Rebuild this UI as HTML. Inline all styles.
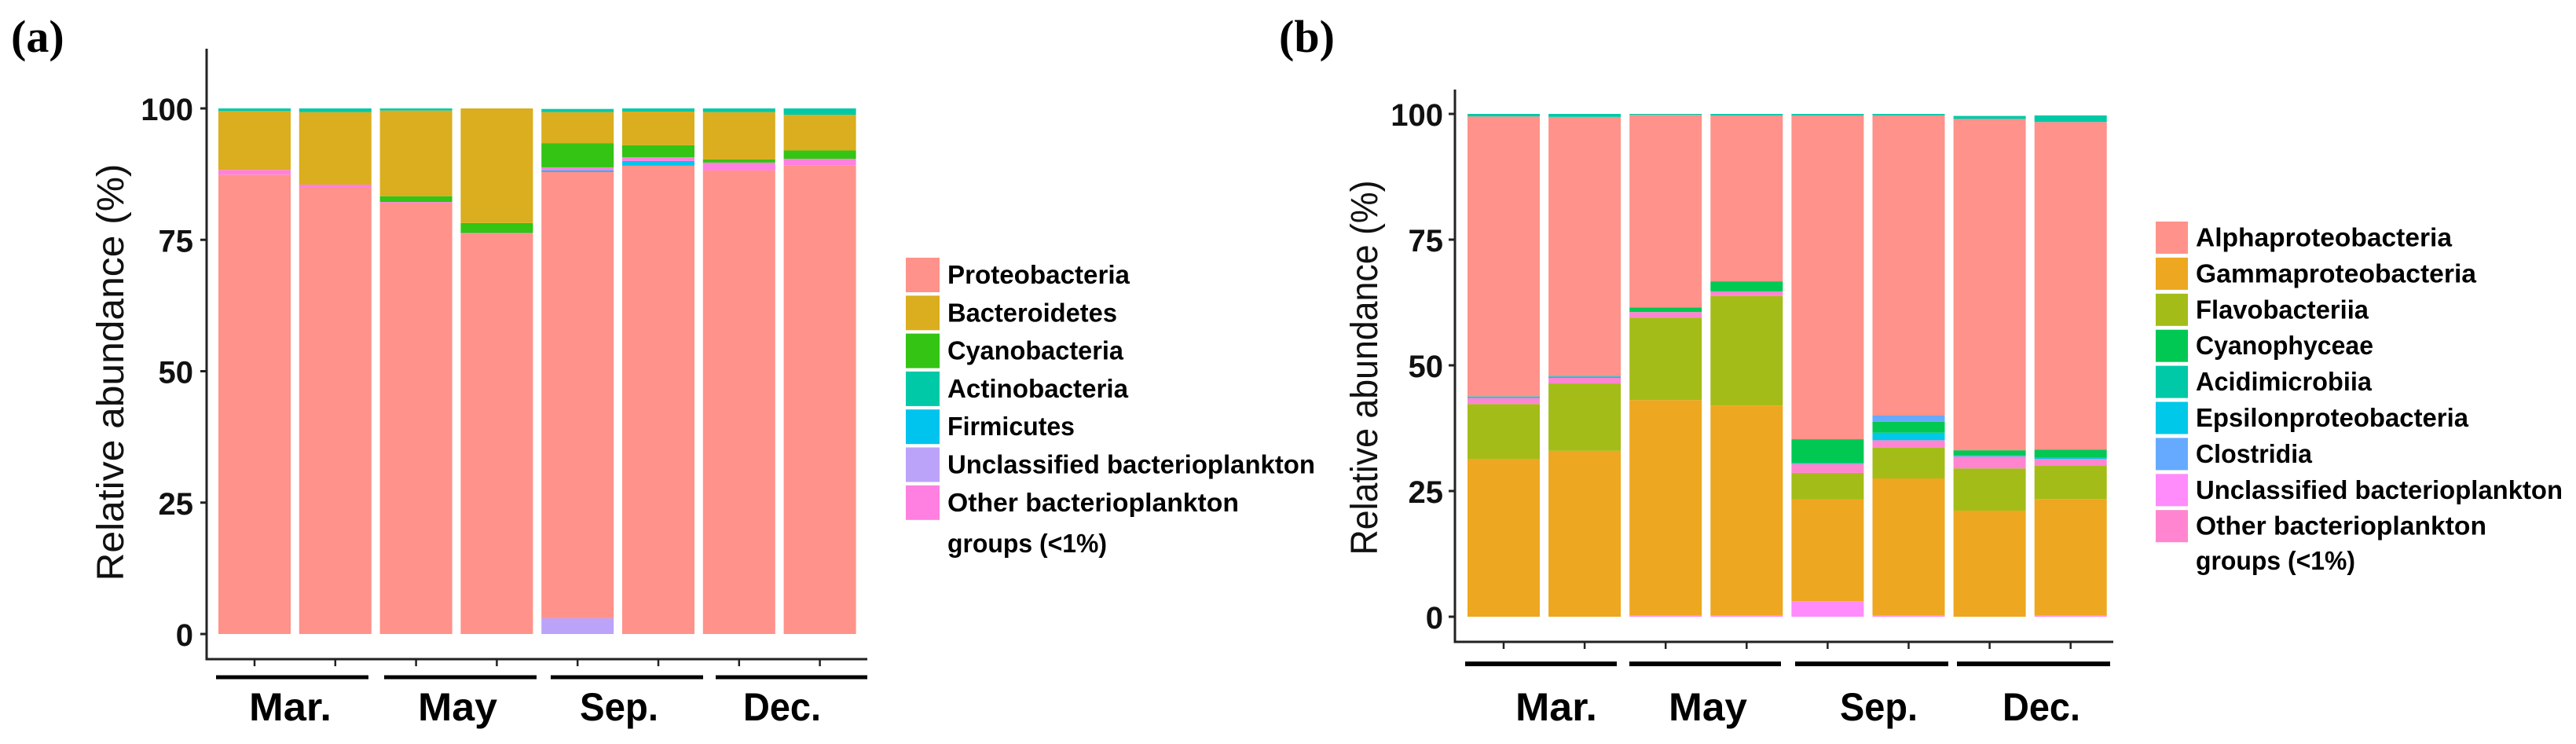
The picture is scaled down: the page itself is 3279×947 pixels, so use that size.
<!DOCTYPE html>
<html><head><meta charset="utf-8"><style>
html,body{margin:0;padding:0;background:#fff;}
svg{display:block;}
.tk{font-family:"Liberation Sans",Arial,sans-serif;font-weight:bold;font-size:40px;fill:#111;}
.yt{font-family:"Liberation Sans",Arial,sans-serif;font-size:48px;fill:#111;}
.lg{font-family:"Liberation Sans Narrow","Liberation Sans",sans-serif;font-weight:bold;font-size:33px;fill:#000;}
.gp{font-family:"Liberation Sans Narrow","Liberation Sans",sans-serif;font-weight:bold;font-size:50px;fill:#000;}
.pl{font-family:"Liberation Serif","Times New Roman",serif;font-weight:bold;font-size:58px;fill:#000;}
</style></head><body>
<svg id="fig" width="3279" height="947" viewBox="0 0 3279 947" xmlns="http://www.w3.org/2000/svg">
<text class="pl" x="14" y="66">(a)</text>
<text class="pl" x="1628" y="66">(b)</text>
<g id="pa"></g>
<g id="pb"></g>
</svg>
<script>
// ---------- shared data ----------
const months = ["Mar.", "May", "Sep.", "Dec."];
const yTicks = [0, 25, 50, 75, 100];

// ---------- panel (a) data: phylum level ----------
const aSeriesNames = ["Unclassified bacterioplankton","Proteobacteria","Firmicutes","Other bacterioplankton groups (<1%)","Cyanobacteria","Bacteroidetes","Actinobacteria"];
const aUnclass = [0, 0, 0, 0, 3.0, 0, 0, 0];
const aProteo  = [87.4, 84.9, 82.0, 76.2, 84.9, 89.1, 88.2, 89.2];
const aFirm    = [0, 0, 0, 0, 0.3, 0.9, 0, 0];
const aOther   = [0.9, 0.6, 0.2, 0.1, 0.6, 0.7, 1.5, 1.2];
const aCyano   = [0, 0, 1.1, 1.9, 4.6, 2.3, 0.6, 1.6];
const aBact    = [11.2, 13.8, 16.3, 21.8, 5.9, 6.4, 9.0, 6.8];
const aActino  = [0.5, 0.7, 0.4, 0, 0.6, 0.6, 0.7, 1.2];

// ---------- panel (b) data: class level ----------
const bSeriesNames = ["Unclassified bacterioplankton","Gammaproteobacteria","Flavobacteriia","Other bacterioplankton groups (<1%)","Epsilonproteobacteria","Cyanophyceae","Clostridia","Alphaproteobacteria","Acidimicrobiia"];
const bUnclass = [0, 0, 0.3, 0.3, 3.1, 0.3, 0, 0.3];
const bGamma   = [31.4, 33.0, 42.8, 41.7, 20.2, 27.2, 21.1, 23.1];
const bFlavo   = [10.9, 13.4, 16.4, 21.8, 5.3, 6.1, 8.4, 6.6];
const bOther   = [1.2, 1.1, 1.1, 0.9, 1.8, 1.5, 2.4, 1.4];
const bEpsilon = [0.3, 0.3, 0, 0, 0.2, 1.5, 0.2, 0.2];
const bCyano   = [0, 0, 0.9, 2.0, 4.7, 2.2, 1.0, 1.6];
const bClost   = [0, 0, 0, 0, 0, 1.2, 0, 0];
const bAlpha   = [55.7, 51.6, 38.3, 33.0, 64.4, 59.7, 65.9, 65.2];
const bAcid    = [0.5, 0.6, 0.2, 0.3, 0.3, 0.3, 0.6, 1.3];

const NS = "http://www.w3.org/2000/svg";
function mk(parent, tag, attrs, text){
  const e = document.createElementNS(NS, tag);
  for (const k in attrs) e.setAttribute(k, attrs[k]);
  if (text !== undefined) e.textContent = text;
  parent.appendChild(e);
  return e;
}

function drawPanel(g, cfg){
  const yS = v => cfg.y0 - v * cfg.ppu;
  const xS = i => cfg.bx0 + i * cfg.pitch;
  const n = cfg.series[0].length;
  for (let i = 0; i < n; i++){
    let cum = 0;
    for (let s = 0; s < cfg.series.length; s++){
      const v = cfg.series[s][i];
      if (v <= 0) continue;
      const r = mk(g, "rect", {x: xS(i), y: yS(cum + v), width: cfg.bw, height: v * cfg.ppu, fill: cfg.colors[s]});
      
      
      cum += v;
    }
  }
  const ya = mk(g, "line", {x1: cfg.ax, y1: cfg.axTop, x2: cfg.ax, y2: cfg.axBot + 1.5, stroke: "#222", "stroke-width": 3});
  
  
  const xa = mk(g, "line", {x1: cfg.ax - 1.5, y1: cfg.axBot, x2: cfg.axRight, y2: cfg.axBot, stroke: "#222", "stroke-width": 3});
  
  
  yTicks.forEach(t => {
    const tm = mk(g, "line", {x1: cfg.ax - 8, y1: yS(t), x2: cfg.ax, y2: yS(t), stroke: "#222", "stroke-width": 3});
    
    
    const tl = mk(g, "text", {x: cfg.tickRight, y: yS(t) + 15, "text-anchor": "end", class: "tk"}, String(t));
    
    
  });
  for (let i = 0; i < n; i++){
    const cx = xS(i) + cfg.bw / 2;
    const tm = mk(g, "line", {x1: cx, y1: cfg.axBot, x2: cx, y2: cfg.axBot + 9, stroke: "#222", "stroke-width": 2.5});
    
    
  }
  months.forEach((m, k) => {
    const gl = mk(g, "line", {x1: cfg.grp[k][0], y1: cfg.grpY, x2: cfg.grp[k][1], y2: cfg.grpY, stroke: "#000", "stroke-width": cfg.grpW});
    
    
    const lt = mk(g, "text", {x: cfg.lab[k][0], y: 917, class: "gp", textLength: cfg.lab[k][1], lengthAdjust: "spacingAndGlyphs"}, m);
    
    
  });
  const yt = mk(g, "text", {x: 0, y: 0, class: "yt", "text-anchor": "middle", textLength: cfg.ytLen, lengthAdjust: "spacingAndGlyphs",
    transform: "translate(" + cfg.ytX + "," + cfg.ytY + ") rotate(-90)"}, "Relative abundance (%)");
  
  
  cfg.legend.forEach((it, k) => {
    const top = cfg.lgTop + k * cfg.lgPitch;
    const kr = mk(g, "rect", {x: cfg.lgX, y: top, width: cfg.lgW, height: cfg.lgH, fill: it[1]});
    
    
    const lt = mk(g, "text", {x: cfg.lgX + cfg.lgW + 10, y: top + cfg.lgH / 2 + 11, class: "lg", textLength: it[2], lengthAdjust: "spacingAndGlyphs"}, it[0]);
    
    
  });
  const gt = mk(g, "text", {x: cfg.lgX + cfg.lgW + 10, y: cfg.groupsY, class: "lg", textLength: 203, lengthAdjust: "spacingAndGlyphs"}, "groups (<1%)");
  
  
}

drawPanel(document.getElementById("pa"), {
  series: [aUnclass, aProteo, aFirm, aOther, aCyano, aBact, aActino],
  colors: ["#BCA3FA", "#FF928A", "#00C4EE", "#FF80E0", "#33C414", "#DAAE1E", "#00C9A7"],
  y0: 807, ppu: 6.69, bx0: 278, pitch: 102.8, bw: 92,
  ax: 263, axTop: 62, axBot: 839, axRight: 1104, tickRight: 246,
  grpY: 862, grpW: 5,
  grp: [[275, 469], [489, 683], [701, 895], [911, 1104]],
  lab: [[317, 105], [532, 101], [738, 100], [946, 99]],
  ytX: 157, ytY: 474, ytLen: 531,
  lgX: 1153, lgTop: 328, lgPitch: 48.3, lgW: 43, lgH: 44, groupsY: 703,
  legend: [["Proteobacteria", "#FF928A", 232], ["Bacteroidetes", "#DAAE1E", 216], ["Cyanobacteria", "#33C414", 224],
           ["Actinobacteria", "#00C9A7", 230], ["Firmicutes", "#00C4EE", 162], ["Unclassified bacterioplankton", "#BCA3FA", 468],
           ["Other bacterioplankton", "#FF80E0", 371]]
});

drawPanel(document.getElementById("pb"), {
  series: [bUnclass, bGamma, bFlavo, bOther, bEpsilon, bCyano, bClost, bAlpha, bAcid],
  colors: ["#FF8CFA", "#EDA720", "#A4BC18", "#FF85D0", "#00C8E8", "#00C853", "#66AAFF", "#FF928A", "#00C9A8"],
  y0: 785, ppu: 6.4, bx0: 1868, pitch: 103.1, bw: 92,
  ax: 1852, axTop: 114, axBot: 817, axRight: 2690, tickRight: 1837,
  grpY: 845, grpW: 6,
  grp: [[1865, 2058], [2074, 2267], [2285, 2480], [2491, 2686]],
  lab: [[1929, 104], [2124, 100], [2342, 99], [2549, 99]],
  ytX: 1753, ytY: 468, ytLen: 477,
  lgX: 2744, lgTop: 282, lgPitch: 45.9, lgW: 41, lgH: 41, groupsY: 725,
  legend: [["Alphaproteobacteria", "#FF928A", 326], ["Gammaproteobacteria", "#EDA720", 357], ["Flavobacteriia", "#A4BC18", 220],
           ["Cyanophyceae", "#00C853", 226], ["Acidimicrobiia", "#00C9A8", 224], ["Epsilonproteobacteria", "#00C8E8", 347],
           ["Clostridia", "#66AAFF", 148], ["Unclassified bacterioplankton", "#FF8CFA", 467], ["Other bacterioplankton", "#FF85D0", 370]]
});
</script>
</body></html>
